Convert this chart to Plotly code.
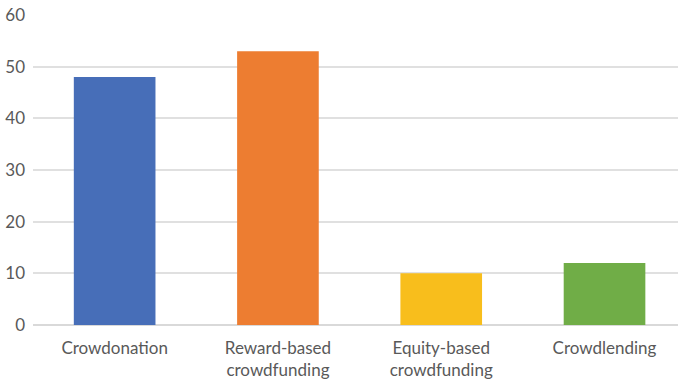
import plotly.graph_objects as go

categories = ["Crowdonation", "Reward-based<br>crowdfunding", "Equity-based<br>crowdfunding", "Crowdlending"]
values = [48, 53, 10, 12]
colors = ["#476EB8", "#ED7D31", "#F8BE1C", "#70AD47"]
y_ticks = [0, 10, 20, 30, 40, 50, 60]

fig = go.Figure(go.Bar(
    x=categories, y=values, marker=dict(color=colors, line=dict(width=0)),
    width=0.5,
))

font_family = "Lato, 'Open Sans', sans-serif"
fig.update_layout(
    width=678, height=380,
    margin=dict(l=33, r=0, t=15, b=55),
    paper_bgcolor="white", plot_bgcolor="white",
    showlegend=False,
    font=dict(family=font_family, size=17, color="#595959"),
    bargap=0.5,
)
fig.update_xaxes(
    range=[-0.5, 3.45], showgrid=False, showline=False, ticks="",
    ticklabelstandoff=11,
    tickfont=dict(size=17, color="#595959"),
)
fig.update_yaxes(
    range=[0, 60], tickvals=y_ticks, showgrid=True, gridcolor="#E0E0E0", gridwidth=1.5,
    zeroline=True, zerolinecolor="#D9D9D9", zerolinewidth=1.5,
    showline=False, ticks="", ticklabelstandoff=7,
    tickfont=dict(size=17, color="#595959"),
)

fig.write_html("out.html")
